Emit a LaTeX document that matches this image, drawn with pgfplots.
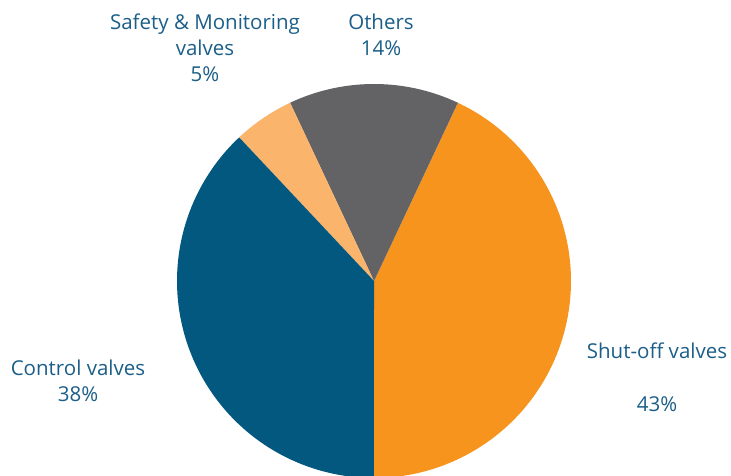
\documentclass[border=0pt]{standalone}
\usepackage{pgfplots}
\pgfplotsset{compat=1.18}
\usepackage{fontspec}
\setmainfont{Open Sans}
\definecolor{shut}{HTML}{F7941D}
\definecolor{oth}{HTML}{636265}
\definecolor{safe}{HTML}{FAB46B}
\definecolor{ctrl}{HTML}{02587F}
\definecolor{txt}{HTML}{1B5E88}
% slice: start angle, percentage, colour
\newcommand{\slice}[3]{%
  \addplot[fill=#3, draw=none, domain=#1:#1+3.6*#2, samples=90, variable=\t]
    ({cos(\t)},{sin(\t)}) -- (axis cs:0,0) -- cycle;}
\begin{document}
\begin{tikzpicture}[x=1pt,y=1pt]
\useasboundingbox (0,0) rectangle (731,475);
\begin{scope}
\clip (0,0) rectangle (731,475);
\begin{axis}[at={(374pt,194pt)}, anchor=origin, hide axis, x=197pt, y=197pt,
  xmin=-1, xmax=1, ymin=-1, ymax=1, clip=false]
\slice{-90}{43}{shut}
\slice{64.8}{14}{oth}
\slice{115.2}{5}{safe}
\slice{133.2}{38}{ctrl}
\end{axis}
\end{scope}
\begin{scope}[every node/.style={text=txt, font=\fontsize{20.5}{26}\selectfont, align=center, inner sep=0pt}]
\node at (205,427) {Safety \& Monitoring\\valves\\5\%};
\node at (381,440) {Others\\14\%};
\node at (78,94) {Control valves\\38\%};
\node at (657,124) {Shut-off valves};
\node at (657,71) {43\%};
\end{scope}
\end{tikzpicture}
\end{document}
